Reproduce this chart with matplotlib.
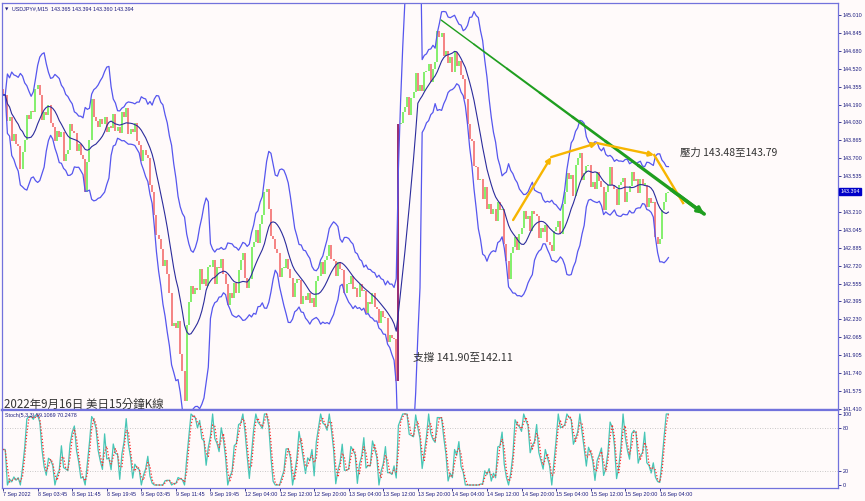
import numpy as np
import pandas as pd
import matplotlib
matplotlib.use('Agg')
import matplotlib.pyplot as plt
from matplotlib.collections import LineCollection
from matplotlib.transforms import blended_transform_factory

plt.rcParams['font.family'] = ['Noto Sans CJK TC', 'DejaVu Sans']

# USDJPY 收盤價 (每 30 分鐘一筆, 約 7 Sep 19:45 ~ 16 Sep 06:30)
closes = [
    144.28, 144.28, 144.04, 144.08, 143.86, 143.92, 143.83, 143.81, 143.60, 143.76,
    143.87, 144.10, 144.06, 144.13, 144.12, 144.33, 144.37, 144.28, 144.05, 144.12,
    144.10, 144.19, 144.02, 143.99, 143.86, 143.95, 143.90, 143.94, 143.68, 143.74,
    143.78, 144.01, 143.95, 143.93, 143.77, 143.83, 143.73, 143.69, 143.39, 143.67,
    143.87, 144.24, 144.08, 144.04, 143.99, 144.06, 144.01, 144.08, 143.94, 143.99,
    143.98, 144.11, 143.95, 143.99, 143.93, 144.12, 144.08, 144.16, 143.92, 143.97,
    143.94, 144.02, 143.86, 143.82, 143.68, 143.78, 143.73, 143.70, 143.46, 143.39,
    143.18, 143.00, 142.96, 142.87, 142.72, 142.77, 142.64, 142.47, 142.17, 142.20,
    142.15, 142.21, 141.91, 141.76, 141.48, 142.18, 142.39, 142.53, 142.46, 142.52,
    142.50, 142.69, 142.55, 142.60, 142.53, 142.71, 142.71, 142.77, 142.55, 142.71,
    142.70, 142.78, 142.64, 142.55, 142.36, 142.47, 142.42, 142.56, 142.47, 142.68,
    142.77, 142.84, 142.61, 142.52, 142.60, 142.89, 142.94, 143.05, 142.93, 143.10,
    143.18, 143.39, 143.42, 143.24, 142.99, 142.96, 142.87, 142.84, 142.62, 142.70,
    142.70, 142.78, 142.69, 142.61, 142.43, 142.56, 142.60, 142.59, 142.37, 142.44,
    142.41, 142.47, 142.38, 142.42, 142.34, 142.58, 142.63, 142.75, 142.64, 142.77,
    142.81, 142.91, 142.78, 142.76, 142.63, 142.75, 142.69, 142.68, 142.47, 142.55,
    142.55, 142.63, 142.51, 142.52, 142.43, 142.55, 142.49, 142.49, 142.29, 142.39,
    142.37, 142.47, 142.34, 142.32, 142.20, 142.31, 142.25, 142.24, 142.02, 142.09,
    142.06, 142.05, 141.67, 144.01, 144.02, 144.12, 144.17, 144.26, 144.10, 144.25,
    144.31, 144.48, 144.32, 144.37, 144.32, 144.49, 144.50, 144.56, 144.40, 144.52,
    144.58, 144.86, 144.81, 144.85, 144.64, 144.68, 144.57, 144.63, 144.49, 144.67,
    144.54, 144.59, 144.46, 144.43, 144.24, 144.01, 143.88, 143.86, 143.63, 143.62,
    143.50, 143.51, 143.33, 143.44, 143.24, 143.28, 143.19, 143.24, 143.13, 143.30,
    143.23, 143.24, 142.92, 142.76, 142.60, 142.84, 142.89, 142.98, 142.86, 143.01,
    143.06, 143.22, 143.15, 143.17, 143.04, 143.22, 143.19, 143.17, 142.97, 143.06,
    143.03, 143.09, 142.94, 142.91, 142.85, 143.04, 143.07, 143.13, 143.01, 143.28,
    143.39, 143.57, 143.51, 143.55, 143.36, 143.64, 143.70, 143.75, 143.50, 143.57,
    143.63, 143.64, 143.44, 143.48, 143.42, 143.58, 143.49, 143.44, 143.23, 143.39,
    143.46, 143.62, 143.46, 143.42, 143.27, 143.46, 143.48, 143.52, 143.30, 143.39,
    143.45, 143.58, 143.49, 143.51, 143.38, 143.51, 143.46, 143.46, 143.26, 143.34,
    143.29, 143.30, 142.98, 142.92, 142.96, 143.23, 143.30, 143.38, 143.394,
]
first_open = 144.33

# 時間軸標籤 (每 32 根 M15)
time_labels = ['7 Sep 2022', '8 Sep 03:45', '8 Sep 11:45', '8 Sep 19:45', '9 Sep 03:45',
               '9 Sep 11:45', '9 Sep 19:45', '12 Sep 04:00', '12 Sep 12:00', '12 Sep 20:00',
               '13 Sep 04:00', '13 Sep 12:00', '13 Sep 20:00', '14 Sep 04:00', '14 Sep 12:00',
               '14 Sep 20:00', '15 Sep 04:00', '15 Sep 12:00', '15 Sep 20:00', '16 Sep 04:00']
price_ticks = [145.010, 144.845, 144.680, 144.520, 144.355, 144.190, 144.030, 143.865,
               143.700, 143.535, 143.370, 143.210, 143.045, 142.885, 142.720, 142.555,
               142.395, 142.230, 142.065, 141.905, 141.740, 141.575, 141.410]
last_price = 143.394
stoch_ticks = [0, 20, 80, 100]

# 畫線 (M15 根數, 價格)
trend_line = [(405.6, 144.964), (649.1, 143.192)]
orange_path = [(472.2, 143.137), (507.4, 143.712), (550.0, 143.840), (602.8, 143.731), (629.6, 143.292)]

s = pd.Series(closes)
x = np.arange(len(closes)) * 2  # M15 根數
opens = np.array([first_open] + closes[:-1])
c = np.array(closes)

# 布林通道
mid = s.rolling(10, min_periods=1).mean()
sd = s.rolling(12, min_periods=1).std(ddof=0)
upper = mid + 2.4 * sd
lower = mid - 2.4 * sd

# 隨機指標
k = 4
hh = s.rolling(k, min_periods=1).max()
ll = s.rolling(k, min_periods=1).min()
main = (s - ll).rolling(3, min_periods=1).sum() / (hh - ll).rolling(3, min_periods=1).sum().replace(0, np.nan) * 100
main = main.fillna(50)
signal = main.rolling(2, min_periods=1).mean()

bg = '#fffafa'
frame = '#7272dc'
txt = '#1c1c80'
small = dict(family='Liberation Sans', fontsize=3.9)

fig = plt.figure(figsize=(8.65, 5.01), dpi=100, facecolor=bg)
ax = fig.add_axes([2/865, 1-410/501, 836/865, 407/501], facecolor=bg)
ax2 = fig.add_axes([2/865, 1-488/501, 836/865, 78/501], facecolor=bg, sharex=ax)

# K線
lo = np.minimum(opens, c)
hi = np.maximum(opens, c)
hi = np.where(hi - lo < 0.012, lo + 0.012, hi)
cols = np.where(c >= opens, '#74ee5a', '#f47474')
cols = np.where(np.abs(c - opens) > 1.0, '#8a1060', cols)
ax.vlines(x, lo, hi, colors=cols, linewidth=1.25)

ax.plot(x, upper, color='#5656ee', lw=0.9)
ax.plot(x, lower, color='#5656ee', lw=0.9)
ax.plot(x, mid, color='#2c2c9c', lw=0.8)

# 趨勢線 (由細到粗)
tx = np.linspace(trend_line[0][0], trend_line[1][0], 9)
ty = np.linspace(trend_line[0][1], trend_line[1][1], 9)
segs = [[(tx[i], ty[i]), (tx[i + 1], ty[i + 1])] for i in range(8)]
ax.add_collection(LineCollection(segs, colors='#1f9e1f', linewidths=np.linspace(1.0, 2.6, 8),
                                 capstyle='round'))
ax.annotate('', xy=trend_line[1], xytext=(tx[7], ty[7]),
            arrowprops=dict(arrowstyle='-|>', color='#1f9e1f', lw=2.4, mutation_scale=9,
                            shrinkA=0, shrinkB=0))
for a, b in zip(orange_path[:-2], orange_path[1:-1]):
    ax.annotate('', xy=b, xytext=a,
                arrowprops=dict(arrowstyle='-|>', color='#f7b500', lw=1.7, mutation_scale=7,
                                shrinkA=0, shrinkB=0))
ax.plot([p[0] for p in orange_path[-2:]], [p[1] for p in orange_path[-2:]], color='#f7b500', lw=1.7)

ax.text(626.9, 143.749, '壓力 143.48至143.79', fontsize=7.5, color='#333333', va='center', ha='left')
ax.text(379.6, 141.876, '支撐 141.90至142.11', fontsize=7.7, color='#333333', va='center', ha='left')
ax.text(0.9, 141.456, '2022年9月16日 美日15分鐘K線', fontsize=8.3, color='#333333', va='center', ha='left')

ax.text(0.003, 0.985, '▼', transform=ax.transAxes, fontsize=3.2, color=txt, va='center', ha='left',
        family='DejaVu Sans')
ax.text(0.012, 0.985, 'USDJPY#,M15  143.365 143.394 143.360 143.394', transform=ax.transAxes,
        color=txt, va='center', ha='left', **small)

ax.set_xlim(-1, 773)
ax.set_ylim(141.401, 145.120)
ax.yaxis.tick_right()
ax.set_yticks(price_ticks)
# 現價標籤蓋住 143.370
ax.set_yticklabels(['' if abs(v - last_price) < 0.05 else f'{v:.3f}' for v in price_ticks])
ax.tick_params(axis='y', direction='out', length=2, width=0.6, pad=1.2, labelsize=3.9,
               colors=txt, labelcolor=txt)
ax.tick_params(axis='x', bottom=False, labelbottom=False)

tr = blended_transform_factory(ax.transAxes, ax.transData)
ax.text(1.003, last_price, f'{last_price:.3f}', transform=tr, color='white', va='center', ha='left',
        bbox=dict(boxstyle='square,pad=0.2', fc='#0000c8', ec='#0000c8'), **small)

# 隨機指標面板
ax2.plot(x, main, color='#48c6b6', lw=0.9)
ax2.plot(x, signal, color='#ff2a2a', lw=0.9, ls=(0, (1, 1.5)))
for lv in (20, 80):
    ax2.axhline(lv, color='#b8b8b8', lw=0.6, ls=(0, (1, 2)))
ax2.set_ylim(-4.2, 105.6)
ax2.yaxis.tick_right()
ax2.set_yticks(stoch_ticks)
ax2.tick_params(axis='y', direction='out', length=2, width=0.6, pad=1.2, labelsize=3.9,
                colors=txt, labelcolor=txt)
ax2.text(0.003, 0.93, 'Stoch(5,3,3) 59.1069 70.2478', transform=ax2.transAxes,
         color=txt, va='center', ha='left', **small)

ax2.set_xticks(np.arange(len(time_labels)) * 32)
ax2.set_xticklabels(time_labels)
ax2.tick_params(axis='x', direction='out', length=2, width=0.6, pad=1.2, labelsize=3.9,
                colors=txt, labelcolor=txt)
for lbl in ax2.get_xticklabels():
    lbl.set_horizontalalignment('left')
for lbl in ax.get_yticklabels() + ax2.get_yticklabels() + ax2.get_xticklabels():
    lbl.set_family('Liberation Sans')

for a in (ax, ax2):
    for sp in a.spines.values():
        sp.set_color(frame)
        sp.set_linewidth(0.9)
ax.spines['bottom'].set_linewidth(1.6)
ax2.spines['top'].set_linewidth(1.6)

fig.savefig('out.png', dpi=100, facecolor=bg)
